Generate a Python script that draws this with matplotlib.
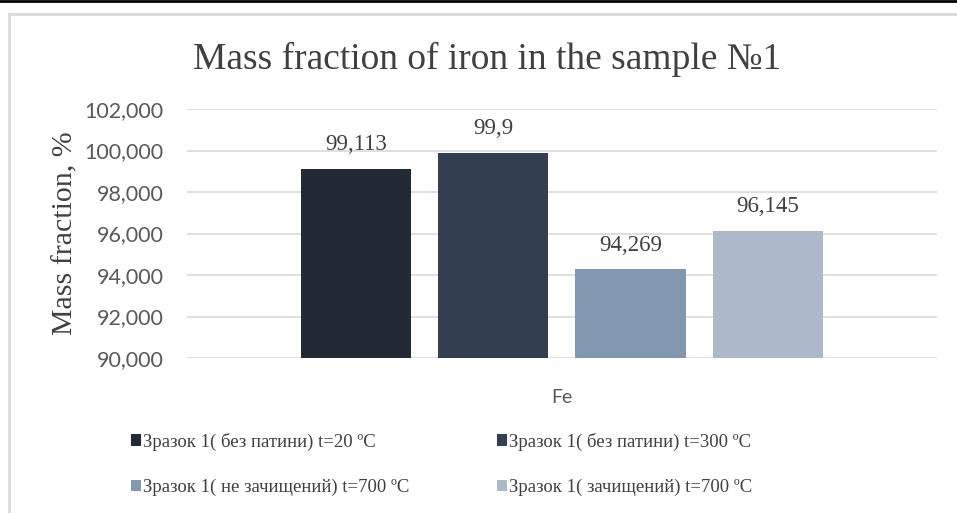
import matplotlib
matplotlib.use("Agg")
import matplotlib.pyplot as plt
from matplotlib.lines import Line2D
from matplotlib.ticker import FuncFormatter

category = "Fe"
series = [
    "Зразок 1( без патини) t=20 ºC",
    "Зразок 1( без патини) t=300 ºC",
    "Зразок 1( не зачищений) t=700 ºC",
    "Зразок 1( зачищений) t=700 ºC",
]
values = [99.113, 99.9, 94.269, 96.145]
value_labels = ["99,113", "99,9", "94,269", "96,145"]
colors = ["#222a35", "#333f50", "#8497b0", "#adb9ca"]
yticks = [90, 92, 94, 96, 98, 100, 102]

serif = "Liberation Serif"
sans = "Lato"

fig = plt.figure(figsize=(9.57, 5.13), dpi=100)
ax = fig.add_axes([0.1954, 0.3021, 0.7837, 0.4854])

# frame like the screenshot
fig.add_artist(Line2D([0, 1], [0.999, 0.999], color="black", lw=2, transform=fig.transFigure))
fig.add_artist(Line2D([0.0094, 1], [0.9727, 0.9727], color="#d9d9d9", lw=2, transform=fig.transFigure))
fig.add_artist(Line2D([0.0094, 0.0094], [0, 0.9727], color="#d9d9d9", lw=2, transform=fig.transFigure))

width = 0.1467
step = 0.1827
bars = []
for i, (name, v, lab, c) in enumerate(zip(series, values, value_labels, colors)):
    x = (i - 1.5) * step
    b = ax.bar(x, v - 90, bottom=90, width=width, color=c, label=name, zorder=3)
    bars.append(b)
    ax.annotate(lab, (x, v), xytext=(0, 10), textcoords="offset points",
                ha="center", va="bottom", fontsize=16.5, family=serif, color="#404040")

ax.set_xlim(-0.5, 0.5)
ax.set_ylim(90, 102)
ax.set_yticks(yticks)
ax.yaxis.set_major_formatter(FuncFormatter(lambda v, p: f"{v:.3f}".replace(".", ",")))
ax.set_xticks([0])
ax.set_xticklabels([category])
ax.tick_params(axis="both", length=0, labelcolor="#595959")
ax.tick_params(axis="y", labelsize=15.5, pad=17)
ax.tick_params(axis="x", labelsize=14, pad=22)
for t in ax.get_yticklabels() + ax.get_xticklabels():
    t.set_family(sans)
ax.grid(axis="y", color="#d9d9d9", lw=1.2, zorder=0)
for s in ax.spines.values():
    s.set_visible(False)

ax.set_ylabel("Mass fraction, %", family=serif, fontsize=21.5, color="#404040", labelpad=4)
fig.text(0.509, 0.885, "Mass fraction of iron in the sample №1", ha="center", va="center",
         family=serif, fontsize=27, color="#404040")

order = [0, 2, 1, 3]
leg = fig.legend([bars[i] for i in order], [series[i] for i in order],
                 loc="upper left", bbox_to_anchor=(0.127, 0.175), ncol=2, frameon=False,
                 prop={"family": serif, "size": 13.5}, handlelength=0.55, handleheight=0.55,
                 handletextpad=0.1, columnspacing=4.65, labelspacing=1.5, borderpad=0)
for t in leg.get_texts():
    t.set_color("#404040")

fig.savefig("out.png", dpi=100)
